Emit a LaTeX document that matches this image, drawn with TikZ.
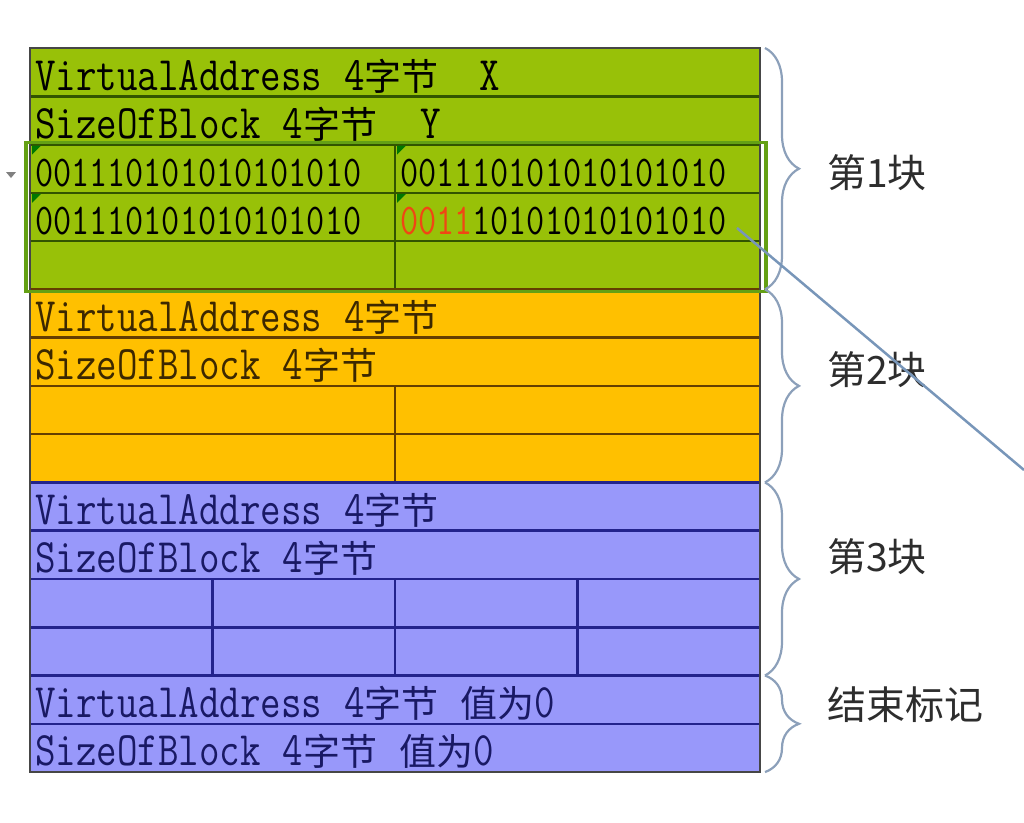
\documentclass[tikz,border=0pt]{standalone}
\usepackage{fontspec}
\usetikzlibrary{positioning,decorations.pathreplacing}
\newfontfamily\cellfont[FakeStretch=0.83]{Latin Modern Mono}
\newfontfamily\bitfont[FakeStretch=0.80]{Latin Modern Mono}
\newfontfamily\cjkfont{Noto Sans CJK SC}
\newcommand\zh[1]{{\cjkfont\fontsize{37}{37}\selectfont #1}}
\newcommand\gap{\hspace{22pt}}

\definecolor{greenfill}{RGB}{152,193,8}
\definecolor{greenline}{RGB}{50,84,0}
\definecolor{orangefill}{RGB}{255,192,0}
\definecolor{orangeline}{RGB}{100,62,0}
\definecolor{orangetext}{RGB}{60,40,0}
\definecolor{bluefill}{RGB}{152,152,250}
\definecolor{blueline}{RGB}{35,35,140}
\definecolor{bluetext}{RGB}{25,25,100}
\definecolor{framecol}{RGB}{70,70,70}
\definecolor{selcol}{RGB}{100,160,20}
\definecolor{markcol}{RGB}{0,120,0}
\definecolor{bracecol}{RGB}{140,160,186}
\definecolor{pincol}{RGB}{120,150,185}
\definecolor{bitred}{RGB}{240,70,20}
\definecolor{labelcol}{RGB}{45,45,45}

\tikzstyle{cell} = [rectangle, outer sep=0, inner xsep=5, inner ysep=0, line width=2.5, minimum height=48.27, text height=39, text depth=3, font=\cellfont\fontsize{48}{48}\selectfont]
\tikzstyle{full} = [cell, minimum width=730, text width=720, align=left]
\tikzstyle{half} = [cell, minimum width=365, text width=355, align=left]
\tikzstyle{quarter} = [cell, minimum width=182.5]
\tikzstyle{bits} = [font=\bitfont\fontsize{44}{44}\selectfont]
\tikzstyle{greenrow} = [fill=greenfill, draw=greenline, text=black]
\tikzstyle{orangerow} = [fill=orangefill, draw=orangeline, text=orangetext]
\tikzstyle{bluerow} = [fill=bluefill, draw=blueline, text=bluetext]
\tikzstyle{blockbrace} = [draw=bracecol, line width=2.2, decorate, decoration={brace, amplitude=34}]
\tikzstyle{blocklabel} = [anchor=west, inner sep=0, text=labelcol, font=\cjkfont\fontsize{39}{39}\selectfont]
\tikzstyle{pinline} = [draw=pincol, line width=2.5]

\begin{document}
\begin{tikzpicture}[x=1pt, y=-1pt]
    \useasboundingbox (0,0) rectangle (1024,822);

    % block 1
    \node (g1) [full, greenrow, anchor=north west] at (30,48) {VirtualAddress\gap 4\zh{字节}\hspace{41pt}X};
    \node (g2) [full, greenrow, below=0pt of g1] {SizeOfBlock\gap 4\zh{字节}\hspace{43pt}Y};
    \node (g3a) [half, greenrow, bits, below right=0pt and 0pt of g2.south west] {001110101010101010};
    \node (g3b) [half, greenrow, bits, right=0pt of g3a] {001110101010101010};
    \node (g4a) [half, greenrow, bits, below=0pt of g3a] {001110101010101010};
    \node (g4b) [half, greenrow, bits, below=0pt of g3b] {{\color{bitred}0011}10101010101010};
    \node (g5a) [half, greenrow, below=0pt of g4a] {};
    \node (g5b) [half, greenrow, below=0pt of g4b] {};

    % block 2
    \node (o1) [full, orangerow, below right=0pt and 0pt of g5a.south west] {VirtualAddress\gap 4\zh{字节}};
    \node (o2) [full, orangerow, below=0pt of o1] {SizeOfBlock\gap 4\zh{字节}};
    \node (o3a) [half, orangerow, below right=0pt and 0pt of o2.south west] {};
    \node (o3b) [half, orangerow, right=0pt of o3a] {};
    \node (o4a) [half, orangerow, below=0pt of o3a] {};
    \node (o4b) [half, orangerow, below=0pt of o3b] {};

    % block 3
    \node (b1) [full, bluerow, below right=0pt and 0pt of o4a.south west] {VirtualAddress\gap 4\zh{字节}};
    \node (b2) [full, bluerow, below=0pt of b1] {SizeOfBlock\gap 4\zh{字节}};
    \node (b3a) [quarter, bluerow, below right=0pt and 0pt of b2.south west] {};
    \node (b3b) [quarter, bluerow, right=0pt of b3a] {};
    \node (b3c) [quarter, bluerow, right=0pt of b3b] {};
    \node (b3d) [quarter, bluerow, right=0pt of b3c] {};
    \node (b4a) [quarter, bluerow, below=0pt of b3a] {};
    \node (b4b) [quarter, bluerow, below=0pt of b3b] {};
    \node (b4c) [quarter, bluerow, below=0pt of b3c] {};
    \node (b4d) [quarter, bluerow, below=0pt of b3d] {};

    % end mark
    \node (e1) [full, bluerow, below right=0pt and 0pt of b4a.south west] {VirtualAddress\gap 4\zh{字节}\hspace{22pt}\zh{值为}0};
    \node (e2) [full, bluerow, below=0pt of e1] {SizeOfBlock\gap 4\zh{字节}\hspace{22pt}\zh{值为}0};

    \draw [framecol, line width=2.5] (g1.north west) rectangle (e2.south east);
    \draw [selcol, line width=3.5] ([shift={(-4,-2)}]g3a.north west) rectangle ([shift={(6,2)}]g5b.south east);
    \foreach \c in {g3a,g3b,g4a,g4b}
        \fill [markcol] ([shift={(2,1)}]\c.north west) -- ++(9,0) -- ++(-9,9) -- cycle;
    \fill [black!50] (6,172) -- (16,172) -- (11,178) -- cycle;

    % braces
    \draw [blockbrace] ([xshift=5]g1.north east) -- ([xshift=5]g5b.south east);
    \draw [blockbrace] ([xshift=5]o1.north east) -- ([xshift=5]o4b.south east);
    \draw [blockbrace] ([xshift=5]b1.north east) -- ([xshift=5]b4d.south east);
    \draw [blockbrace] ([xshift=5]e1.north east) -- ([xshift=5]e2.south east);

    \node (lab1) [blocklabel] at (827,173) {第1块};
    \node (lab2) [blocklabel] at (827,370) {第2块};
    \node (lab3) [blocklabel] at (827,557) {第3块};
    \node (lab4) [blocklabel] at (827,705) {结束标记};

    \coordinate (pin) at (737,228);
    \coordinate (off) at (1024,470);
    \draw [pinline] (pin) -- (off);
\end{tikzpicture}
\end{document}
